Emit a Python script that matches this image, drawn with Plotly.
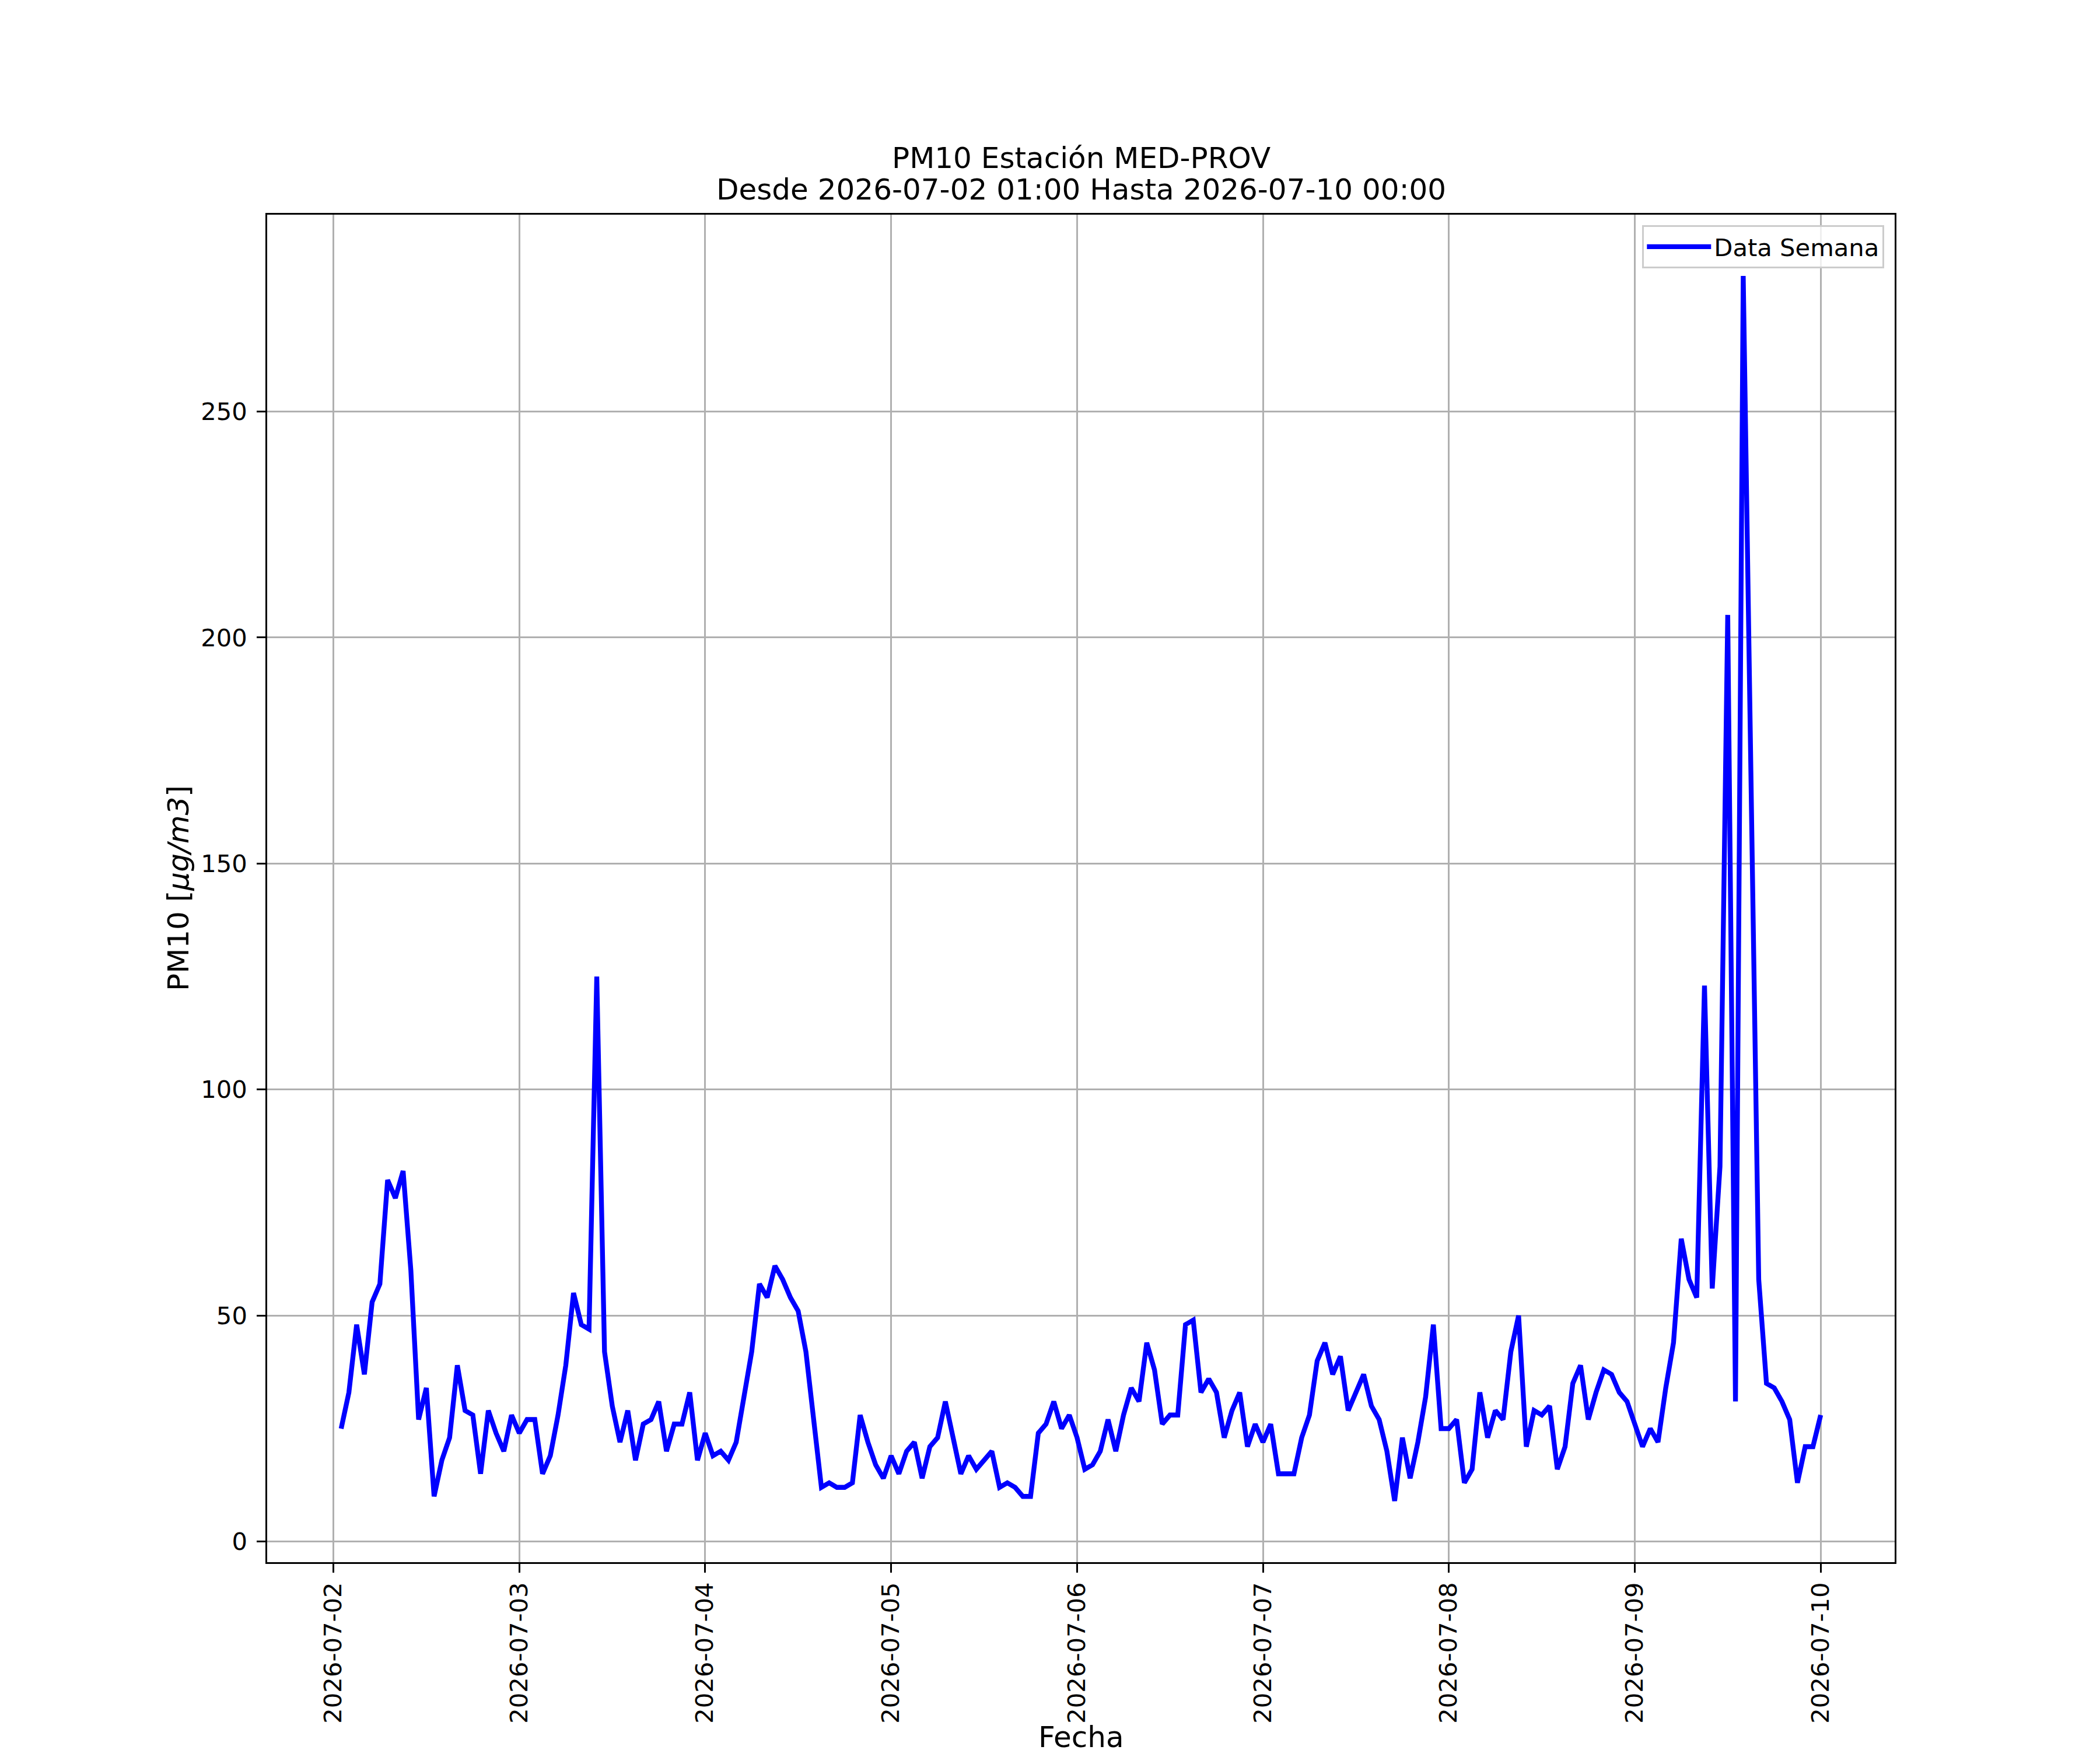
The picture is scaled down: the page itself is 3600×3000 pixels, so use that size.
import pandas as pd
import plotly.graph_objects as go

# Hourly PM10 values, 2026-07-02 01:00 .. 2026-07-10 00:00 (24 values per block)
day_0702 = [25, 33, 48, 37, 53, 57, 80, 76, 82, 60, 27, 34, 10, 18, 23, 39, 29, 28, 15, 29, 24, 20, 28, 24]
day_0703 = [27, 27, 15, 19, 28, 39, 55, 48, 47, 125, 42, 30, 22, 29, 18, 26, 27, 31, 20, 26, 26, 33, 18, 24]
day_0704 = [19, 20, 18, 22, 32, 42, 57, 54, 61, 58, 54, 51, 42, 26, 12, 13, 12, 12, 13, 28, 22, 17, 14, 19]
day_0705 = [15, 20, 22, 14, 21, 23, 31, 23, 15, 19, 16, 18, 20, 12, 13, 12, 10, 10, 24, 26, 31, 25, 28, 23]
day_0706 = [16, 17, 20, 27, 20, 28, 34, 31, 44, 38, 26, 28, 28, 48, 49, 33, 36, 33, 23, 29, 33, 21, 26, 22]
day_0707 = [26, 15, 15, 15, 23, 28, 40, 44, 37, 41, 29, 33, 37, 30, 27, 20, 9, 23, 14, 22, 32, 48, 25, 25]
day_0708 = [27, 13, 16, 33, 23, 29, 27, 42, 50, 21, 29, 28, 30, 16, 21, 35, 39, 27, 33, 38, 37, 33, 31, 26]
day_0709 = [21, 25, 22, 34, 44, 67, 58, 54, 123, 56, 83, 205, 31, 280, 170, 58, 35, 34, 31, 27, 13, 21, 21, 28]

start_time = "2026-07-02 01:00"
tick_dates = ["2026-07-02", "2026-07-03", "2026-07-04", "2026-07-05",
              "2026-07-06", "2026-07-07", "2026-07-08", "2026-07-09", "2026-07-10"]
y_ticks = [0, 50, 100, 150, 200, 250]

values = day_0702 + day_0703 + day_0704 + day_0705 + day_0706 + day_0707 + day_0708 + day_0709
times = pd.date_range(start_time, periods=len(values), freq="h")

# matplotlib-like 5% margins
span = times[-1] - times[0]
x_range = [times[0] - span * 0.05, times[-1] + span * 0.05]
vspan = max(values) - min(values)
y_range = [min(values) - 0.05 * vspan, max(values) + 0.05 * vspan]

FONT = "DejaVu Sans"
W, H = 3600, 3000
L, R, T, B = 450, 360, 360, 330
plot_h = H - T - B

def py(pix_from_top):
    return (H - B - pix_from_top) / plot_h

def px(pix_from_left):
    return (pix_from_left - L) / (W - L - R)

fig = go.Figure()
fig.add_trace(go.Scatter(
    x=times, y=values, mode="lines", name="Data Semana",
    line=dict(color="#0000ff", width=8.3),
))

axis_common = dict(
    showline=True, linecolor="black", linewidth=3.3, mirror=True,
    ticks="outside", ticklen=14.6, tickwidth=3.3, tickcolor="black",
    showgrid=True, gridcolor="#b0b0b0", gridwidth=3.3,
    zeroline=False,
    tickfont=dict(family=FONT, size=41.7, color="black"),
)

fig.update_layout(
    width=W, height=H,
    margin=dict(l=L, r=R, t=T, b=B, autoexpand=False),
    paper_bgcolor="white", plot_bgcolor="white",
    font=dict(family=FONT, color="black"),
    showlegend=True,
    legend=dict(
        x=px(3222), y=py(378), xanchor="right", yanchor="top",
        bgcolor="rgba(255,255,255,0.8)", bordercolor="#cccccc", borderwidth=3.3,
        font=dict(family=FONT, size=41.7, color="black"),
        itemwidth=110,
    ),
    xaxis=dict(
        axis_common,
        type="date", range=x_range,
        tickmode="array", tickvals=tick_dates, ticktext=tick_dates,
        tickangle=-90, ticklabelstandoff=0,
    ),
    yaxis=dict(
        axis_common,
        range=y_range,
        tickmode="array", tickvals=y_ticks, ticktext=[str(v) for v in y_ticks],
        ticklabelstandoff=8,
    ),
    annotations=[
        dict(text="PM10 Estación MED-PROV", xref="paper", yref="paper",
             x=0.5, y=py(263), xanchor="center", yanchor="middle",
             showarrow=False, font=dict(family=FONT, size=50, color="black")),
        dict(text="Desde 2026-07-02 01:00 Hasta 2026-07-10 00:00", xref="paper", yref="paper",
             x=0.5, y=py(317), xanchor="center", yanchor="middle",
             showarrow=False, font=dict(family=FONT, size=50, color="black")),
        dict(text="PM10 [<i>μg/m3</i>]", xref="paper", yref="paper",
             x=px(298), y=0.5, xanchor="center", yanchor="middle", textangle=-90,
             showarrow=False, font=dict(family=FONT, size=50, color="black")),
        dict(text="Fecha", xref="paper", yref="paper",
             x=0.5, y=py(2970), xanchor="center", yanchor="middle",
             showarrow=False, font=dict(family=FONT, size=50, color="black")),
    ],
)

fig.write_html("out.html")
